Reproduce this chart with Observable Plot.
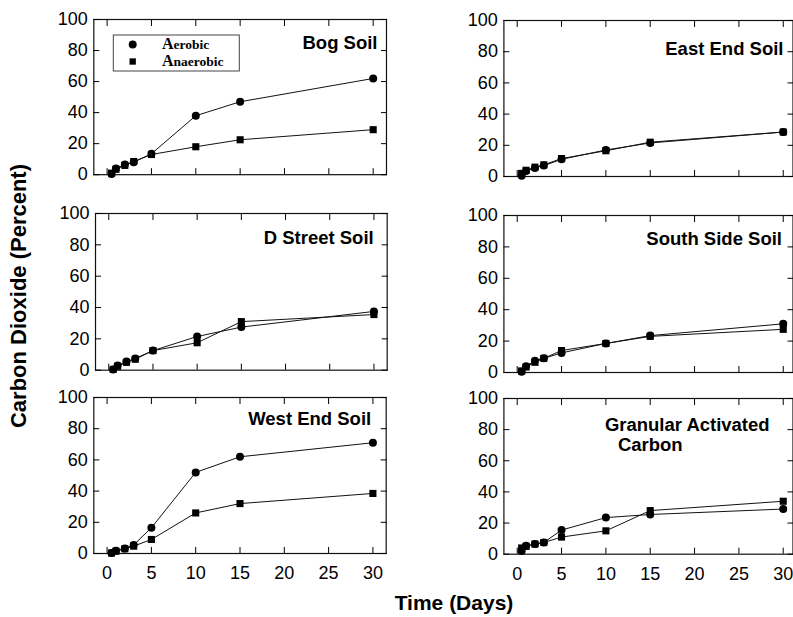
<!DOCTYPE html>
<html><head><meta charset="utf-8">
<script src="https://cdn.jsdelivr.net/npm/d3@7"></script>
<script src="https://cdn.jsdelivr.net/npm/@observablehq/plot@0.6"></script>
<style>
html,body{margin:0;padding:0;background:#fff;overflow:hidden;}
#chart{position:relative;width:793px;height:617px;background:#fff;}
#chart > svg{position:absolute;}
</style></head><body><div id="chart"></div>
<script>
// ---- data ----
const days = [0.5, 1, 2, 3, 5, 10, 15, 30];
const seriesNames = ["Aerobic", "Anaerobic"];
const panelTitles = ["Bog Soil", "East End Soil", "D Street Soil", "South Side Soil", "West End Soil", "Granular Activated Carbon"];
const bogAerobic = [0.5, 4, 6.5, 8, 13.5, 38, 47, 62];
const bogAnaerobic = [1, 3.5, 6, 8.5, 13, 18, 22.5, 29];
const eastAerobic = [0.5, 3.5, 5.5, 7, 11, 17, 21.5, 28.5];
const eastAnaerobic = [2, 4, 6, 7.5, 11.5, 16.5, 22, 28.5];
const dstreetAerobic = [0.5, 3, 5.5, 7.5, 12.5, 21.5, 27.5, 37.5];
const dstreetAnaerobic = [0.5, 2.5, 5, 7, 12.5, 17.5, 31, 35.5];
const southAerobic = [0.5, 4, 7.5, 9, 12.5, 18.5, 23.5, 31];
const southAnaerobic = [1, 3.5, 6.5, 9, 14, 18.5, 23, 27.5];
const westAerobic = [0.4, 1.7, 3.2, 5.5, 16.5, 52, 62, 71];
const westAnaerobic = [0.3, 1.5, 3, 4.7, 9, 26, 32, 38.5];
const gacAerobic = [2, 5.5, 6.5, 7.5, 15.5, 23.5, 25.5, 29];
const gacAnaerobic = [4, 5, 6.5, 7.5, 11, 15, 28, 34];
const xTicks = [0, 5, 10, 15, 20, 25, 30];
const yTicks = [0, 20, 40, 60, 80, 100];
const xAxisTitle = "Time (Days)";
const yAxisTitle = "Carbon Dioxide (Percent)";

// ---- layout ----
const leftDomain = [-1.5, 31.5];
const rightDomain = [-1.5, 31.1];
const panels = [
  {title: [panelTitles[0]], aer: bogAerobic, ana: bogAnaerobic, col: 0, bottom: false, l: 93.3, t: 19.3, r: 386, b: 174.5, dom: leftDomain,
   tl: [{anchor: "top-right", ta: "end", dx: -9, dy: 23.5}]},
  {title: [panelTitles[1]], aer: eastAerobic, ana: eastAnaerobic, col: 1, bottom: false, l: 503.4, t: 20, r: 792.5, b: 176, dom: rightDomain,
   tl: [{anchor: "top-right", ta: "end", dx: -9.5, dy: 28.5}]},
  {title: [panelTitles[2]], aer: dstreetAerobic, ana: dstreetAnaerobic, col: 0, bottom: false, l: 95, t: 213.3, r: 386.7, b: 370, dom: leftDomain,
   tl: [{anchor: "top-right", ta: "end", dx: -13.5, dy: 24.5}]},
  {title: [panelTitles[3]], aer: southAerobic, ana: southAnaerobic, col: 1, bottom: false, l: 503.4, t: 215, r: 792.5, b: 372, dom: rightDomain,
   tl: [{anchor: "top-right", ta: "end", dx: -11, dy: 24}]},
  {title: [panelTitles[4]], aer: westAerobic, ana: westAnaerobic, col: 0, bottom: true, l: 93.3, t: 397.3, r: 385.7, b: 553.3, dom: leftDomain,
   tl: [{anchor: "top-right", ta: "end", dx: -15, dy: 22}]},
  {title: ["Granular Activated", "Carbon"], aer: gacAerobic, ana: gacAnaerobic, col: 1, bottom: true, l: 503.4, t: 398.3, r: 792.5, b: 554, dom: rightDomain,
   tl: [{anchor: "top-left", ta: "start", dx: 101, dy: 27}, {anchor: "top-left", ta: "start", dx: 114, dy: 47}]}
];

const chart = document.getElementById("chart");
const FONT = "'Liberation Sans', Arial, Helvetica, sans-serif";

for (const p of panels) {
  const data = days.flatMap((d, i) => [
    {day: d, co2: p.aer[i], series: seriesNames[0]},
    {day: d, co2: p.ana[i], series: seriesNames[1]}
  ]);
  const svgLeft = p.col === 0 ? 0 : 400;
  const mt = 12, mb = p.bottom ? 42 : 12;
  const width = p.col === 0 ? 392 : 393;
  const ml = p.l - svgLeft;
  const mr = width - (p.r - svgLeft);
  const height = mt + (p.b - p.t) + mb;
  const titleMarks = p.title.map((txt, k) => Plot.text([txt], {
    text: d => d, frameAnchor: p.tl[k].anchor, textAnchor: p.tl[k].ta, lineAnchor: "middle",
    dx: p.tl[k].dx, dy: p.tl[k].dy, fontSize: 18.5, fontWeight: "bold", fontFamily: FONT, fill: "#000"
  }));
  const svg = Plot.plot({
    width, height,
    marginLeft: ml, marginRight: mr, marginTop: mt, marginBottom: mb,
    x: {domain: p.dom},
    y: {domain: [0, 100]},
    symbol: {domain: seriesNames, range: ["circle", "square"]},
    style: {fontFamily: FONT, fontSize: "18px", color: "#000", background: "transparent", overflow: "visible"},
    marks: [
      Plot.frame({stroke: "#111", strokeWidth: 1.2}),
      Plot.axisY(yTicks, {anchor: "left", tickSize: 0, tickPadding: 6, label: null, fontSize: 18}),
      Plot.axisY(yTicks, {anchor: "left", tickSize: -6, fill: "none", label: null}),
      Plot.axisY(yTicks, {anchor: "right", tickSize: -6, fill: "none", label: null}),
      Plot.axisX(xTicks, {anchor: "top", tickSize: -6, fill: "none", label: null}),
      Plot.axisX(xTicks, {anchor: "bottom", tickSize: -6, fill: "none", label: null}),
      p.bottom ? Plot.axisX(xTicks, {anchor: "bottom", tickSize: 0, tickPadding: 13, label: null, fontSize: 18}) : null,
      Plot.line(data, {x: "day", y: "co2", z: "series", stroke: "#111", strokeWidth: 1}),
      Plot.dot(data, {x: "day", y: "co2", symbol: "series", fill: "#000", r: 4}),
      ...titleMarks
    ]
  });
  svg.style.position = "absolute";
  svg.style.left = svgLeft + "px";
  svg.style.top = (p.t - mt) + "px";
  chart.appendChild(svg);
}

// ---- overlay: axis titles and legend ----
const ov = d3.select("#chart").append("svg")
  .attr("width", 793).attr("height", 617)
  .style("left", "0px").style("top", "0px").style("pointer-events", "none");

ov.append("text")
  .attr("transform", "translate(26,296) rotate(-90)")
  .attr("text-anchor", "middle")
  .attr("font-family", FONT).attr("font-weight", "bold").attr("font-size", 22)
  .text(yAxisTitle);

ov.append("text")
  .attr("x", 454).attr("y", 610)
  .attr("text-anchor", "middle")
  .attr("font-family", FONT).attr("font-weight", "bold").attr("font-size", 21)
  .text(xAxisTitle);

const lg = ov.append("g");
lg.append("rect").attr("x", 113.3).attr("y", 35).attr("width", 126).attr("height", 36)
  .attr("fill", "#fff").attr("stroke", "#444").attr("stroke-width", 1);
const sym = [d3.symbolCircle, d3.symbolSquare];
const lgY = [44.5, 61.5];
seriesNames.forEach((name, i) => {
  lg.append("path").attr("transform", `translate(132.7,${lgY[i]})`)
    .attr("d", d3.symbol(sym[i], i === 0 ? 50 : 40)()).attr("fill", "#000");
  const t = lg.append("text").attr("x", 162).attr("y", lgY[i] + 4.8)
    .attr("font-family", "'Liberation Serif', 'Times New Roman', serif").attr("font-weight", "bold");
  t.append("tspan").attr("font-size", 16).text(name[0]);
  t.append("tspan").attr("font-size", 13.5).text(name.slice(1));
});
</script></body></html>
